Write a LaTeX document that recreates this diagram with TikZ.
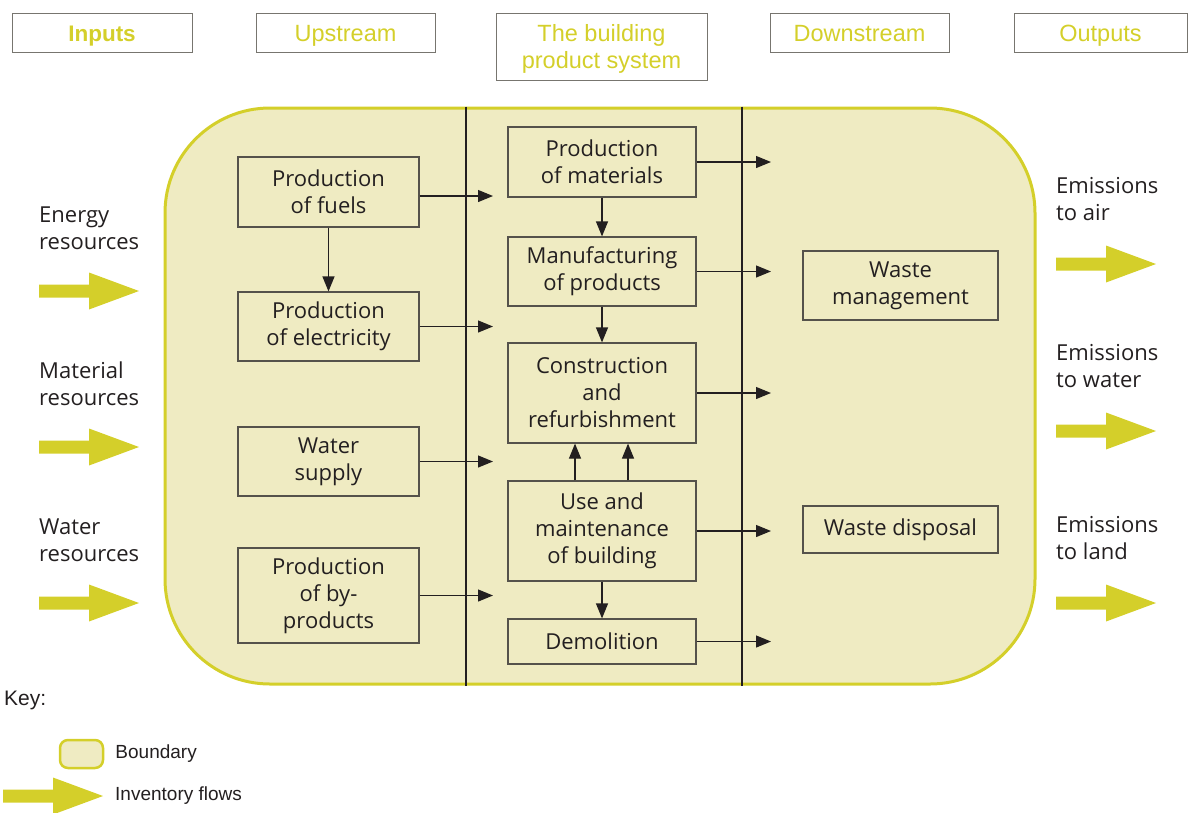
\documentclass[tikz,border=0pt]{standalone}
\usepackage{fontspec}
\setmainfont{Liberation Sans}
\newfontfamily\boxfamily{Open Sans}
\usepackage{tikz}
\usetikzlibrary{positioning,arrows.meta}

\definecolor{lcayellow}{HTML}{D4CF2A}
\definecolor{lcafill}{HTML}{EFEBC2}
\definecolor{boxline}{HTML}{55524B}
\definecolor{ink}{HTML}{231F20}

\begin{document}
\begin{tikzpicture}[
    x=1pt, y=-1pt,
    stage/.style={rectangle, draw=boxline!80, line width=1pt, minimum height=39pt, align=center, text=lcayellow, font=\fontsize{23.5}{27}\selectfont, inner sep=2pt, text height=23pt, text depth=5pt},
    proc/.style={rectangle, draw=boxline, line width=1.2pt, minimum width=#1, align=center, text=ink, font=\boxfamily\fontsize{22}{27}\selectfont, inner sep=2pt},
    proc/.default=181pt,
    side/.style={anchor=west, align=left, text=ink, font=\boxfamily\fontsize{22}{27}\selectfont, inner sep=0pt},
    keytext/.style={anchor=west, text=ink, font=\fontsize{19}{22}\selectfont, inner sep=0pt},
    boundary/.style={rectangle, draw=lcayellow, fill=lcafill, line width=3pt},
    divider/.style={draw=ink, line width=1.2pt},
    arrow/.style={-{Triangle[length=15pt,width=12pt]}, draw=ink, line width=1.2pt},
    flow/.pic={\fill[lcayellow] (0,-6.5) -- (50,-6.5) -- (50,-18.5) -- (100,0) -- (50,18.5) -- (50,6.5) -- (0,6.5) -- cycle;}
]
\useasboundingbox (0,0) rectangle (1188,812);

% Stage headings
\node[stage, minimum width=180pt, font=\fontsize{22.5}{27}\selectfont\bfseries] (inputs) at (102,32.5) {Inputs};
\node[stage, minimum width=179pt] (upstream) at (345.5,32.5) {Upstream};
\node[stage, minimum width=211pt, minimum height=67pt, text height=, text depth=] (bps) at (601.5,46.5) {\rule{0pt}{21pt}The building\\product system};
\node[stage, minimum width=179pt] (downstream) at (859.5,32.5) {Downstream};
\node[stage, minimum width=173pt] (outputs) at (1100.5,32.5) {Outputs};

% System boundary and stage dividers
\node[boundary, rounded corners=105pt, minimum width=870pt, minimum height=576pt] (sys) at (600,396) {};
\coordinate (d1) at (466,0);
\coordinate (d2) at (742,0);
\draw[divider] (d1 |- sys.north) -- (d1 |- sys.south);
\draw[divider] (d2 |- sys.north) -- (d2 |- sys.south);

% Upstream processes
\node[proc, minimum height=70pt] (fuels) at (328.5,192) {Production\\of fuels};
\node[proc, minimum height=69pt] (elec) at (328.5,326.5) {Production\\of electricity};
\node[proc, minimum height=69pt] (water) at (328.5,461.5) {Water\\supply};
\node[proc, minimum height=95pt] (byprod) at (328.5,595.5) {Production\\of by-\\products};

% Building life cycle
\node[proc=188pt, minimum height=70pt] (mat) at (602,162) {Production\\of materials};
\node[proc=188pt, minimum height=69pt] (manuf) at (602,271.5) {Manufacturing\\of products};
\node[proc=188pt, minimum height=100pt] (constr) at (602,393) {Construction\\and\\refurbishment};
\node[proc=188pt, minimum height=100pt] (use) at (602,531) {Use and\\maintenance\\of building};
\node[proc=188pt, minimum height=45pt] (demol) at (602,641.5) {Demolition};

% Downstream processes
\node[proc=195pt, minimum height=69pt] (wastem) at (900.5,285.5) {Waste\\management};
\node[proc=195pt, minimum height=47pt] (wasted) at (900.5,529.5) {Waste disposal};

% Arrow ends across the dividers
\coordinate (inL) at (493,0);
\coordinate (outR) at (771,0);

\draw[arrow] (fuels.south) -- (elec.north);
\draw[arrow] ([yshift=-4pt]fuels.east) -- ([yshift=-4pt]fuels.east -| inL);
\draw[arrow] (elec.east) -- (elec.east -| inL);
\draw[arrow] (water.east) -- (water.east -| inL);
\draw[arrow] (byprod.east) -- (byprod.east -| inL);

\draw[arrow] (mat.south) -- (manuf.north);
\draw[arrow] (manuf.south) -- (constr.north);
\draw[arrow] ([xshift=-27pt]use.north) -- ([xshift=-27pt]constr.south);
\draw[arrow] ([xshift=26pt]use.north) -- ([xshift=26pt]constr.south);
\draw[arrow] (use.south) -- (demol.north);

\draw[arrow] (mat.east) -- (mat.east -| outR);
\draw[arrow] (manuf.east) -- (manuf.east -| outR);
\draw[arrow] (constr.east) -- (constr.east -| outR);
\draw[arrow] (use.east) -- (use.east -| outR);
\draw[arrow] (demol.east) -- (demol.east -| outR);

% Inputs
\node[side] (energy) at (39,228) {Energy\\resources};
\node[side] (material) at (39,384) {Material\\resources};
\node[side] (waterres) at (39,540) {Water\\resources};
\pic at (39,291) {flow};
\pic at (39,447) {flow};
\pic at (39,603) {flow};

% Outputs
\node[side] (air) at (1056,199.5) {Emissions\\to air};
\node[side] (towater) at (1056,366.5) {Emissions\\to water};
\node[side] (land) at (1056,538.5) {Emissions\\to land};
\pic at (1056,264) {flow};
\pic at (1056,431) {flow};
\pic at (1056,603) {flow};

% Key
\node[keytext, font=\fontsize{21}{25}\selectfont] (key) at (4,700) {Key:};
\node[boundary, rounded corners=8pt, minimum width=43pt, minimum height=28pt, line width=2.5pt] (keybox) at (81.5,754) {};
\node[keytext, right=11pt of keybox] (keyboxlbl) {Boundary};
\pic at (3,796) {flow};
\node[keytext] (keyflow) at (115,796) {Inventory flows};

\end{tikzpicture}
\end{document}
